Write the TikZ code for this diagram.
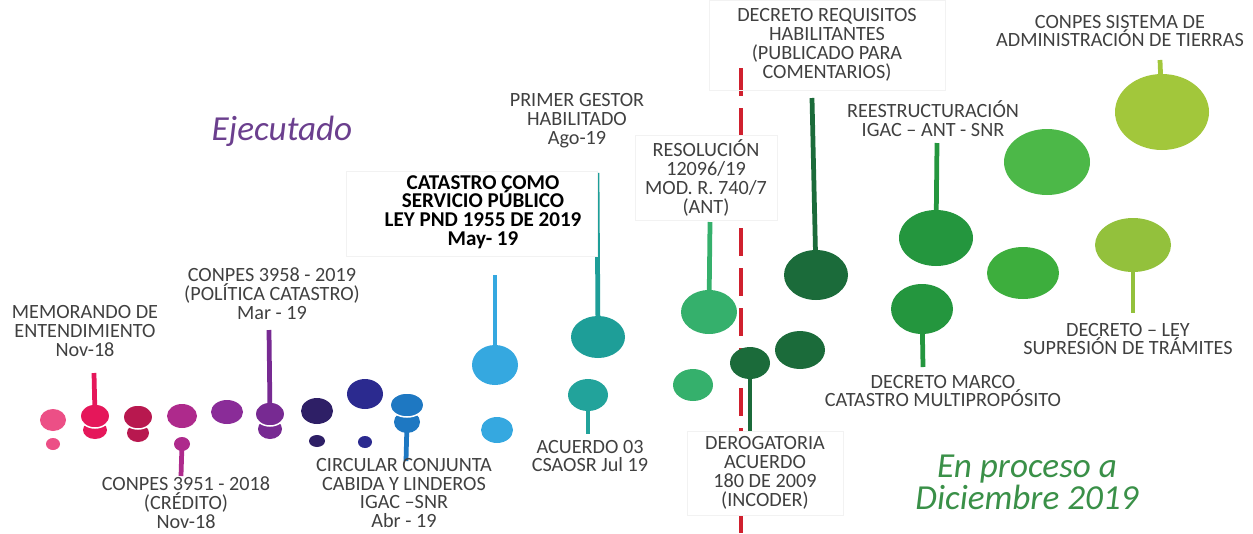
\documentclass[tikz,border=0pt]{standalone}
\usepackage{fontspec}
\setmainfont{Carlito}
\usetikzlibrary{shapes.geometric}

\definecolor{pinkA}{HTML}{EC4F86}
\definecolor{roseA}{HTML}{E5175A}
\definecolor{roseB}{HTML}{B8184F}
\definecolor{magA}{HTML}{AE2A8C}
\definecolor{purA}{HTML}{8A2C98}
\definecolor{purB}{HTML}{772A92}
\definecolor{navyA}{HTML}{2E1F66}
\definecolor{indA}{HTML}{2B2A8F}
\definecolor{bluA}{HTML}{1E78C2}
\definecolor{bluB}{HTML}{35A8E0}
\definecolor{tealA}{HTML}{1E9E98}
\definecolor{tealB}{HTML}{22A39B}
\definecolor{mgrA}{HTML}{35B06C}
\definecolor{dgrA}{HTML}{1B6B3A}
\definecolor{grnA}{HTML}{24963E}
\definecolor{grnB}{HTML}{3DAE3D}
\definecolor{grnC}{HTML}{4CB848}
\definecolor{ygA}{HTML}{A2C73B}
\definecolor{ygB}{HTML}{93C13C}
\definecolor{redline}{HTML}{D0202E}
\definecolor{ejec}{HTML}{6B3F8E}
\definecolor{proc}{HTML}{3A9048}
\definecolor{labelgray}{HTML}{404040}

\newcommand{\tightlines}{\lineskiplimit=-20pt\relax}

\begin{document}
\begin{tikzpicture}[x=0.2mm, y=-0.2mm,
    bubble/.style n args={3}{ellipse, fill=#1, inner sep=0pt, minimum width=#2*0.4mm, minimum height=#3*0.4mm},
    ring/.style={draw=white, line width=0.3mm},
    stem/.style={draw=#1, line width=0.95mm},
    lbl/.style={align=center, inner sep=0pt, text=labelgray, font=\fontsize{11.5}{10.8}\selectfont\tightlines},
    tbox/.style 2 args={draw=black!5, fill=white, minimum width=#1*0.2mm, minimum height=#2*0.2mm}]
    \useasboundingbox (0,0) rectangle (1253,533);

    % Dashed divider
    \coordinate (redtop) at (741,68);
    \coordinate (redbot) at (741,533);
    \draw[redline, line width=0.8mm, dash pattern=on 5.6mm off 2.4mm] (redtop) -- (redbot);

    % Nodes
    \node[bubble={pinkA}{13}{11}] (c1) at (53,420) {};
    \node[bubble={pinkA}{7}{6}] (c1b) at (53,444) {};
    \node[bubble={roseA}{12}{9}] (c2b) at (95,430) {};
    \node[bubble={roseA}{15}{12}, ring] (c2) at (95,416) {};
    \node[bubble={roseB}{11}{9}] (c3b) at (138,433) {};
    \node[bubble={roseB}{15}{12}, ring] (c3) at (138,417) {};
    \node[bubble={magA}{15}{12}] (c4) at (182,416) {};
    \node[bubble={magA}{8}{7}] (c4b) at (182,444) {};
    \node[bubble={purA}{16}{12}] (c5) at (227,412) {};
    \node[bubble={purB}{12}{10}] (c6b) at (270,429) {};
    \node[bubble={purB}{15}{12}, ring] (c6) at (270,414) {};
    \node[bubble={navyA}{16}{13}] (c7) at (317,411) {};
    \node[bubble={navyA}{8}{6}] (c7b) at (317,441) {};
    \node[bubble={indA}{18}{15}] (c8) at (365,394) {};
    \node[bubble={indA}{7}{6}] (c8b) at (365,442) {};
    \node[bubble={bluA}{13}{11}] (c9b) at (407,422) {};
    \node[bubble={bluA}{17}{12}, ring] (c9) at (407,405) {};
    \node[bubble={bluB}{23}{20}] (c10) at (495,365) {};
    \node[bubble={bluB}{16}{13}] (c10b) at (497,430) {};
    \node[bubble={tealA}{27}{21}] (t1) at (598,337) {};
    \node[bubble={tealB}{20}{16}] (t2) at (588,395) {};
    \node[bubble={mgrA}{28}{22}] (g1) at (709,312) {};
    \node[bubble={mgrA}{20}{16}] (g2) at (693,385) {};
    \node[bubble={dgrA}{20}{16}] (d1) at (750,363) {};
    \node[bubble={dgrA}{25}{19}] (d2) at (800,350) {};
    \node[bubble={dgrA}{32}{25}] (d3) at (816,275) {};
    \node[bubble={grnA}{37}{28}] (r1) at (936,238) {};
    \node[bubble={grnA}{31}{25}] (r2) at (922,309) {};
    \node[bubble={grnB}{36}{26}] (r3) at (1023,273) {};
    \node[bubble={grnC}{43}{33}] (r4) at (1047,162) {};
    \node[bubble={ygA}{47}{38}] (y1) at (1162,112) {};
    \node[bubble={ygB}{38}{27}] (y2) at (1133,245) {};

    % Free ends of the stems
    \coordinate (s2) at (94,373);
    \coordinate (s4) at (181,476);
    \coordinate (s6) at (269,330);
    \coordinate (s9) at (406,461);
    \coordinate (s10) at (495,275);
    \coordinate (st1) at (597,173);
    \coordinate (st2) at (588,434);
    \coordinate (sg1) at (710,222);
    \coordinate (sd1) at (750,437);
    \coordinate (sd3) at (812,98);
    \coordinate (sr1) at (937,143);
    \coordinate (sr2) at (923,367);
    \coordinate (sy1) at (1160,60);
    \coordinate (sy2) at (1133,313);

    % Edges
    \draw[stem=roseA] (c2.center) -- (s2);
    \draw[stem=magA] (c4b.center) -- (s4);
    \draw[stem=purB] (c6.center) -- (s6);
    \draw[stem=bluA] (c9b.center) -- (s9);
    \draw[stem=bluB] (c10.center) -- (s10);
    \draw[stem=tealA] (t1.center) -- (st1);
    \draw[stem=tealB] (t2.center) -- (st2);
    \draw[stem=mgrA] (g1.center) -- (sg1);
    \draw[stem=dgrA] (d1.center) -- (sd1);
    \draw[stem=dgrA] (d3.center) -- (sd3);
    \draw[stem=grnA] (r1.center) -- (sr1);
    \draw[stem=grnA] (r2.center) -- (sr2);
    \draw[stem=ygA] (y1.center) -- (sy1);
    \draw[stem=ygB] (y2.center) -- (sy2);

    % Labels
    \node[lbl] (memo) at (85,331) {MEMORANDO DE\\ENTENDIMIENTO\\Nov-18};
    \node[lbl] (cp3951) at (186,503) {CONPES 3951 - 2018\\(CRÉDITO)\\Nov-18};
    \node[lbl] (cp3958) at (272,294) {CONPES 3958 - 2019\\(POLÍTICA CATASTRO)\\Mar - 19};
    \node[lbl] (circ) at (404,493) {CIRCULAR CONJUNTA\\CABIDA Y LINDEROS\\IGAC –SNR\\Abr - 19};
    \node[tbox={251}{85}] (leybox) at (472,214) {};
    \node[lbl, text=black, font=\fontsize{12}{10.6}\selectfont\bfseries] (ley) at (483,212) {CATASTRO COMO\\SERVICIO PÚBLICO\\LEY PND 1955 DE 2019\\May- 19};
    \node[lbl] (gestor) at (577,121) {PRIMER GESTOR\\HABILITADO\\Ago-19};
    \node[lbl] (acuerdo) at (590,456) {ACUERDO 03\\CSAOSR Jul 19};
    \node[lbl, tbox={142}{85}] (resol) at (706,178) {RESOLUCIÓN\\12096/19\\MOD. R. 740/7\\(ANT)};
    \node[lbl, tbox={236}{90}, fill=none] (requi) at (827,45) {DECRETO REQUISITOS\\HABILITANTES\\(PUBLICADO PARA\\COMENTARIOS)};
    \node[lbl, tbox={156}{84}] (derog) at (765,473) {DEROGATORIA\\ACUERDO\\180 DE 2009\\(INCODER)};
    \node[lbl] (reest) at (933,119) {REESTRUCTURACIÓN\\IGAC – ANT - SNR};
    \node[lbl] (marco) at (943,391) {DECRETO MARCO\\CATASTRO MULTIPROPÓSITO};
    \node[lbl] (sat) at (1120,31) {CONPES SISTEMA DE\\ADMINISTRACIÓN DE TIERRAS};
    \node[lbl] (dley) at (1128,339) {DECRETO – LEY\\SUPRESIÓN DE TRÁMITES};

    % Headings
    \node[text=ejec, font=\fontsize{20}{17}\selectfont\itshape] (hejec) at (282,131) {Ejecutado};
    \node[align=center, text=proc, font=\fontsize{20}{17}\selectfont\itshape] (hproc) at (1027,482) {En proceso a\\Diciembre 2019};
\end{tikzpicture}
\end{document}
